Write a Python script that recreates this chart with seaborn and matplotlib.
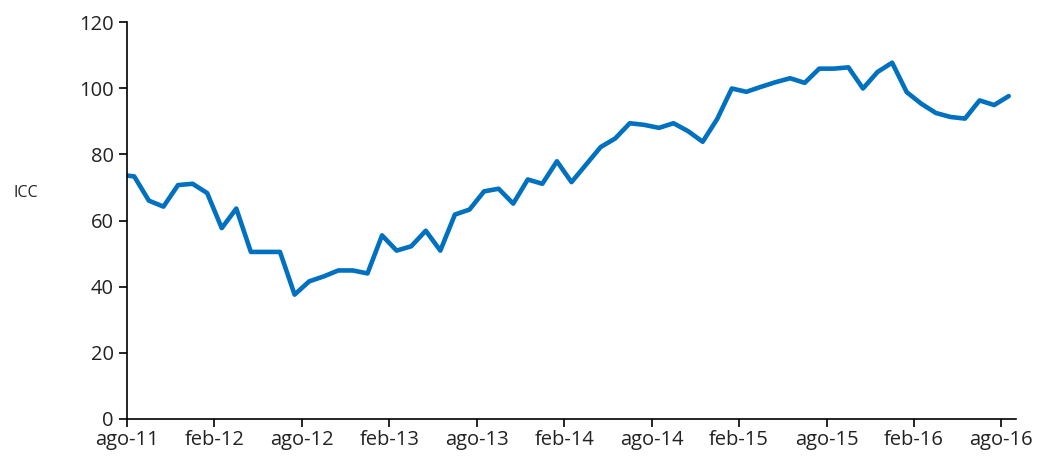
import numpy as np
import pandas as pd
import matplotlib
matplotlib.use("Agg")
import matplotlib.pyplot as plt
import seaborn as sns

# Meses desde ago-11 (datos a mitad de mes)
meses = [0.0] + [k + 0.5 for k in range(61)]
icc = [73.6, 73.3, 66.0, 64.2, 70.7, 71.1, 68.3, 57.7, 63.6, 50.5,
       50.5, 50.5, 37.6, 41.6, 43.1, 44.9, 44.9, 44.0, 55.5, 50.9,
       52.2, 56.9, 50.9, 61.8, 63.3, 68.8, 69.6, 65.1, 72.4, 71.1,
       77.9, 71.6, 76.9, 82.2, 84.8, 89.4, 88.9, 88.0, 89.4, 87.0,
       83.8, 90.7, 99.9, 98.9, 100.4, 101.8, 103.0, 101.6, 105.9, 105.9,
       106.3, 99.9, 104.9, 107.7, 98.8, 95.3, 92.5, 91.3, 90.8, 96.3,
       94.9, 97.6]

tick_pos = [0, 6, 12, 18, 24, 30, 36, 42, 48, 54, 60]
tick_labels = ["ago-11", "feb-12", "ago-12", "feb-13", "ago-13", "feb-14",
               "ago-14", "feb-15", "ago-15", "feb-16", "ago-16"]

df = pd.DataFrame({"mes": meses, "ICC": icc})

sns.set_style("ticks")
plt.rcParams["font.family"] = ["Open Sans", "DejaVu Sans"]

fig = plt.figure(figsize=(10.47, 4.58), dpi=100)
ax = fig.add_axes([127 / 1047, 1 - 419 / 458, 889 / 1047, 397 / 458])

sns.lineplot(data=df, x="mes", y="ICC", ax=ax, color="#0070C0", linewidth=3.3)

ax.set_xlim(0, 61)
ax.set_ylim(0, 120)
ax.set_yticks(range(0, 121, 20))
ax.set_xticks(tick_pos)
ax.set_xticklabels(tick_labels)
ax.tick_params(axis="both", labelsize=14.5, length=6, width=1.2, color="black",
               labelcolor="#222222", direction="out")
ax.tick_params(axis="x", pad=2)
ax.set_xlabel("")
ax.set_ylabel("ICC", rotation=0, fontsize=11.5, color="#222222")
ax.yaxis.set_label_coords(-0.114, 0.55)

for s in ["top", "right"]:
    ax.spines[s].set_visible(False)
for s in ["left", "bottom"]:
    ax.spines[s].set_linewidth(1.2)
    ax.spines[s].set_color("black")

fig.savefig("out.png", dpi=100)
